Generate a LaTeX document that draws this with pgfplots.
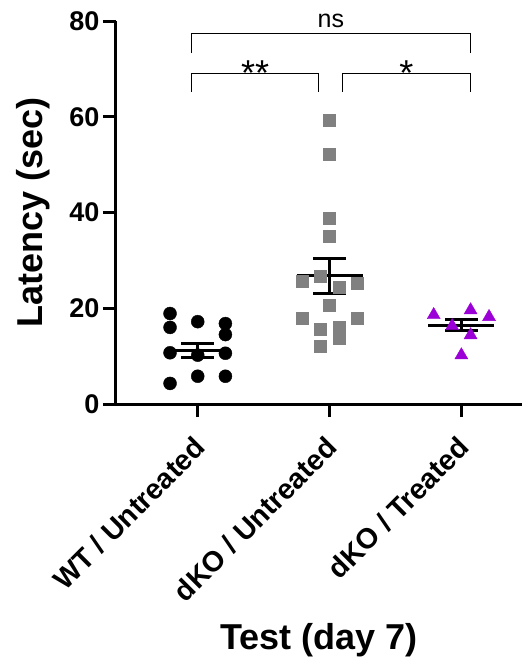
\documentclass[border=0pt]{standalone}
\usepackage{pgfplots}
\pgfplotsset{compat=1.18}
\usepackage{fontspec}
\setmainfont{Liberation Sans}
\definecolor{sqgray}{RGB}{128,128,128}
\definecolor{tripurple}{RGB}{155,0,215}
\begin{document}
\begin{tikzpicture}
\path[use as bounding box] (-116pt,-254pt) rectangle (408pt,404pt);
\begin{axis}[
  at={(0,0)}, anchor=south west,
  width=406pt, height=383pt, scale only axis,
  xmin=-0.62, xmax=2.46, ymin=0, ymax=80,
  axis lines=left,
  axis line style={-, line width=3pt, black},
  clip=false,
  ytick={0,20,40,60,80},
  xtick={0,1,2},
  xticklabels={WT / Untreated, dKO / Untreated, dKO / Treated},
  tick align=outside,
  major tick length=13pt,
  tick style={line width=3pt, black},
  /pgf/number format/assume math mode=true,
  ticklabel style={font=\fontsize{27}{27}\selectfont\bfseries},
  xticklabel style={font=\fontsize{28.5}{28.5}\selectfont\bfseries, xshift=4pt, yshift=-24pt, rotate=45, anchor=east, inner sep=2pt},
  xlabel={Test (day 7)},
  ylabel={Latency (sec)},
  label style={font=\fontsize{36}{36}\selectfont\bfseries},
  xlabel style={at={(axis description cs:0.5,-0.616)}, anchor=center},
  ylabel style={at={(axis description cs:-0.205,0.5)}, anchor=center},
]
% individual points
\addplot[only marks, mark=*, mark size=6.5pt, black] coordinates {
 (-0.21,18.9) (-0.21,16.0) (0,17.2) (0.21,16.8) (0.21,14.5)
 (-0.21,10.7) (0,10.2) (0.21,10.6) (0,5.8) (0.21,5.8) (-0.21,4.3)};
\addplot[only marks, mark=square*, mark size=6pt, sqgray, mark options={draw=none, fill=sqgray}] coordinates {
 (1,59.3) (1,52.1) (1,38.8) (1,35.1) (0.93,26.7) (0.79,25.7) (1.07,24.4) (1.21,25.3)
 (1,20.7) (0.79,17.9) (1.21,17.9) (0.93,15.6) (1.07,16.1) (1.07,13.7) (0.93,12.0)};
\addplot[only marks, mark=triangle*, mark size=7.5pt, tripurple, mark options={draw=none, fill=tripurple}] coordinates {
 (1.79,18.6) (2.07,19.6) (2.21,18.2) (1.93,16.3) (2.07,14.4) (2,10.2)};
% mean and SEM
\addplot[black, line width=3pt] coordinates {(-0.25,11.2) (0.25,11.2)};
\addplot[black, line width=3pt] coordinates {(-0.125,12.7) (0.125,12.7)};
\addplot[black, line width=3pt] coordinates {(-0.125,9.7) (0.125,9.7)};
\addplot[black, line width=3pt] coordinates {(0,12.7) (0,9.7)};
\addplot[black, line width=3pt] coordinates {(0.75,26.75) (1.25,26.75)};
\addplot[black, line width=3pt] coordinates {(0.875,30.4) (1.125,30.4)};
\addplot[black, line width=3pt] coordinates {(0.875,23.1) (1.125,23.1)};
\addplot[black, line width=3pt] coordinates {(1,30.4) (1,23.1)};
\addplot[black, line width=3pt] coordinates {(1.75,16.5) (2.25,16.5)};
\addplot[black, line width=3pt] coordinates {(1.875,17.75) (2.125,17.75)};
\addplot[black, line width=3pt] coordinates {(1.875,15.25) (2.125,15.25)};
\addplot[black, line width=3pt] coordinates {(2,17.75) (2,15.25)};
% significance brackets
\addplot[black, line width=1.4pt] coordinates {(-0.045,65.2) (-0.045,69.0) (0.917,69.0) (0.917,65.2)};
\addplot[black, line width=1.4pt] coordinates {(1.098,65.2) (1.098,69.0) (2.068,69.0) (2.068,65.2)};
\addplot[black, line width=1.4pt] coordinates {(-0.045,73.3) (-0.045,77.4) (2.068,77.4) (2.068,73.3)};
\node[anchor=base, font=\fontsize{36}{36}\selectfont] at (axis cs:0.436,66.6) {**};
\node[anchor=base, font=\fontsize{36}{36}\selectfont] at (axis cs:1.583,66.6) {*};
\node[anchor=base, font=\fontsize{25}{25}\selectfont] at (axis cs:1.01,78.7) {ns};
\end{axis}
\end{tikzpicture}
\end{document}
